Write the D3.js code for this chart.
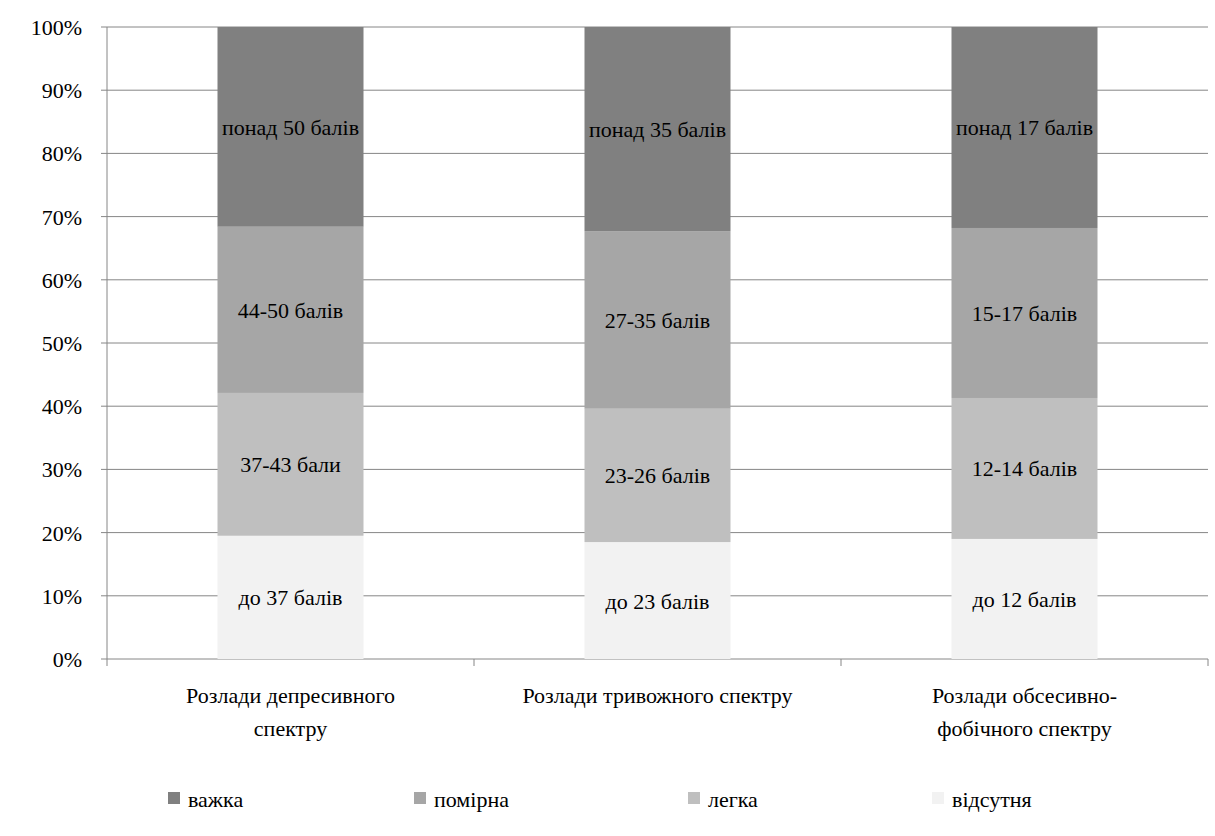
<!DOCTYPE html>
<html><head><meta charset="utf-8">
<script src="https://cdn.jsdelivr.net/npm/d3@7"></script>
<style>body{margin:0;background:#fff}text{font-family:"Liberation Serif","Times New Roman",serif}</style>
</head><body><svg id="c" width="1215" height="836"></svg>
<script>
const categories = ['Розлади депресивного|спектру', 'Розлади тривожного спектру', 'Розлади обсесивно-|фобічного спектру'];
const seriesNames = ['відсутня', 'легка', 'помірна', 'важка'];
const colors = ['#f2f2f2', '#bfbfbf', '#a6a6a6', '#808080'];
const values = [
  [19.5, 22.6, 26.3, 31.6],
  [18.5, 21.1, 28.1, 32.3],
  [19.0, 22.3, 26.9, 31.8]
];
const labels = [
  ['до 37 балів', '37-43 бали', '44-50 балів', 'понад 50 балів'],
  ['до 23 балів', '23-26 балів', '27-35 балів', 'понад 35 балів'],
  ['до 12 балів', '12-14 балів', '15-17 балів', 'понад 17 балів']
];
const yTicks = d3.range(0, 101, 10);

const svg = d3.select('#c');
const L = 107, R = 1208, T = 27, B = 659;
const x = d3.scaleBand().domain(d3.range(3)).range([L, R]).paddingInner(0).paddingOuter(0);
const y = d3.scaleLinear().domain([0, 100]).range([B, T]);
const bw = 146;

// grid
svg.append('g').selectAll('line').data(yTicks).join('line')
  .attr('x1', L).attr('x2', R).attr('y1', d => y(d)).attr('y2', d => y(d))
  .attr('stroke', '#868686').attr('stroke-width', 1);
svg.append('line').attr('x1', L).attr('x2', L).attr('y1', T).attr('y2', B).attr('stroke', '#868686');
svg.append('g').selectAll('line').data([0, 1, 2, 3]).join('line')
  .attr('x1', d => L + d * x.bandwidth()).attr('x2', d => L + d * x.bandwidth())
  .attr('y1', B).attr('y2', B + 7).attr('stroke', '#868686');
svg.append('g').selectAll('line').data(yTicks).join('line')
  .attr('x1', L - 6).attr('x2', L).attr('y1', d => y(d)).attr('y2', d => y(d)).attr('stroke', '#868686');
svg.append('g').selectAll('text').data(yTicks).join('text')
  .attr('x', L - 25).attr('y', d => y(d) + 8).attr('text-anchor', 'end')
  .attr('font-size', 22).text(d => d + '%');

// bars
values.forEach((vals, i) => {
  const cx = x(i) + x.bandwidth() / 2;
  let acc = 0;
  vals.forEach((v, j) => {
    const y0 = y(acc), y1 = y(acc + v);
    svg.append('rect').attr('x', cx - bw / 2).attr('width', bw)
      .attr('y', y1).attr('height', y0 - y1).attr('fill', colors[j]);
    svg.append('text').attr('x', cx).attr('y', (y0 + y1) / 2 + 8)
      .attr('text-anchor', 'middle').attr('font-size', 22).text(labels[i][j]);
    acc += v;
  });
  const lines = categories[i].split('|');
  lines.forEach((t, k) => svg.append('text').attr('x', cx).attr('y', 703 + k * 33)
    .attr('text-anchor', 'middle').attr('font-size', 22).text(t));
});

// legend
const legendX = [168, 414, 688, 932];
[3, 2, 1, 0].forEach((s, k) => {
  svg.append('rect').attr('x', legendX[k]).attr('y', 792).attr('width', 12).attr('height', 12).attr('fill', colors[s]);
  svg.append('text').attr('x', legendX[k] + 20).attr('y', 807).attr('font-size', 22).text(seriesNames[s]);
});
</script></body></html>
